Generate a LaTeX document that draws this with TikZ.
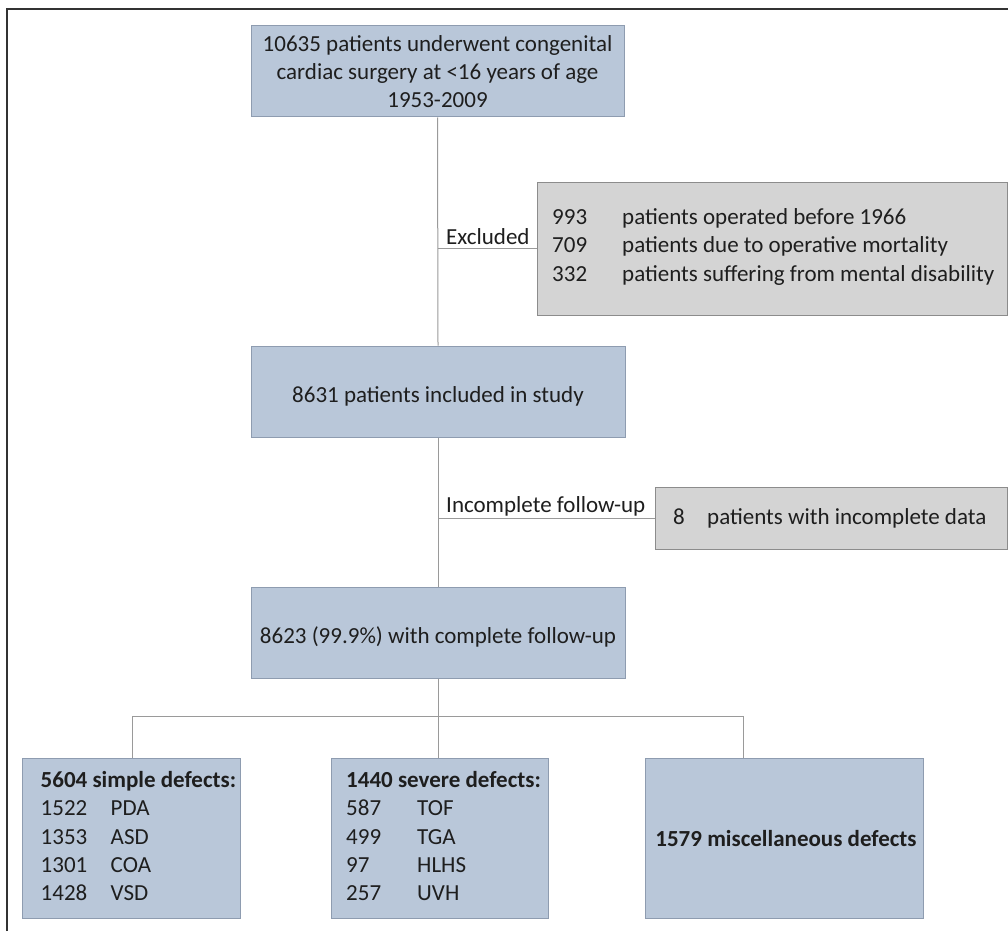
\documentclass[tikz,border=0pt]{standalone}
\usepackage{fontspec}
\setmainfont{Carlito}
\definecolor{boxblue}{HTML}{B9C7D9}
\definecolor{blueedge}{HTML}{8E9CB0}
\definecolor{boxgray}{HTML}{D4D4D4}
\definecolor{grayedge}{HTML}{8C8C8C}
\definecolor{linegray}{HTML}{9A9A9A}
\definecolor{framecol}{HTML}{333333}
\definecolor{txtcol}{HTML}{1E1E1E}
\begin{document}
\begin{tikzpicture}[x=1pt,y=-1pt,
  every node/.style={text=txtcol},
  base/.style={font=\fontsize{23}{28}\selectfont},
  bluebox/.style={draw=blueedge, fill=boxblue, line width=1pt, inner sep=0pt, align=center, base},
  graybox/.style={draw=grayedge, fill=boxgray, line width=1pt, inner sep=0pt},
  txt/.style={inner sep=0pt, align=left, base},
  lbl/.style={inner sep=0pt, base},
  conn/.style={draw=linegray, line width=1pt}]
\useasboundingbox (0,0) rectangle (1008,931);
\fill[white] (0,0) rectangle (1008,931);
% outer frame (cropped at right and bottom)
\draw[framecol, line width=2pt] (7,931) -- (7,9.5) -- (1010,9.5);

% main boxes
\node[bluebox, minimum width=373pt, minimum height=91pt] (top) at (437.5,71.5)
  {10635 patients underwent congenital\\cardiac surgery at <16 years of age\\1953-2009};
\node[bluebox, minimum width=374pt, minimum height=91pt] (incl) at (438,391.5) {};
\node[txt] (incltxt) at (438,396) {8631 patients included in study};
\node[bluebox, minimum width=374pt, minimum height=91pt] (compl) at (438,632.5) {};
\node[txt] (compltxt) at (438,637) {8623 (99.9\%) with complete follow-up};

% exclusion boxes
\node[graybox, minimum width=470pt, minimum height=133pt] (excl) at (772,248.5) {};
\node[txt, anchor=west, font=\fontsize{23}{28.5}\selectfont] (excltxt) at (552,247)
  {\begin{tabular}{@{}p{70pt}@{}l@{}}
   993 & patients operated before 1966\\
   709 & patients due to operative mortality\\
   332 & patients suffering from mental disability
   \end{tabular}};
\node[graybox, minimum width=352pt, minimum height=62pt] (incompl) at (831,518) {};
\node[txt, anchor=west] (incompltxt) at (673,519)
  {\begin{tabular}{@{}p{34pt}@{}l@{}}8 & patients with incomplete data\end{tabular}};

% defect boxes
\node[bluebox, minimum width=217.5pt, minimum height=160pt] (simple) at (131.25,838) {};
\node[txt, anchor=west, font=\fontsize{23}{28.3}\selectfont] (simpletxt) at (40.5,838.5)
  {\begin{tabular}{@{}p{70pt}@{}l@{}}
   \multicolumn{2}{@{}l@{}}{\bfseries 5604 simple defects:}\\
   1522 & PDA\\
   1353 & ASD\\
   1301 & COA\\
   1428 & VSD
   \end{tabular}};
\node[bluebox, minimum width=217.5pt, minimum height=160pt] (severe) at (439.75,838) {};
\node[txt, anchor=west, font=\fontsize{23}{28.3}\selectfont] (severetxt) at (346,838.5)
  {\begin{tabular}{@{}p{71pt}@{}l@{}}
   \multicolumn{2}{@{}l@{}}{\bfseries 1440 severe defects:}\\
   587 & TOF\\
   499 & TGA\\
   97 & HLHS\\
   257 & UVH
   \end{tabular}};
\node[bluebox, minimum width=278pt, minimum height=160pt] (misc) at (784,838) {};
\node[txt] (misctxt) at (786,839) {\bfseries 1579 miscellaneous defects};

% connectors
\draw[conn] (top.south) -- (incl.north);
\draw[conn] (top.south |- excl.west) -- (excl.west);
\draw[conn] (incl.south) -- (compl.north);
\draw[conn] (incl.south |- incompl.west) -- (incompl.west);
\coordinate (bus) at (438,716);
\coordinate (miscdrop) at (743,758);
\draw[conn] (compl.south) -- (bus);
\draw[conn] (bus -| 132.5,0) -- (bus -| miscdrop);
\draw[conn] (bus -| 132.5,0) -- (132.5,758);
\draw[conn] (bus) -- (bus |- severe.north);
\draw[conn] (bus -| miscdrop) -- (miscdrop);

% connector labels
\node[lbl, anchor=base west] (exlbl) at (446,244.5) {Excluded};
\node[lbl, anchor=base west] (inclbl) at (446,512.5) {Incomplete follow-up};
\end{tikzpicture}
\end{document}
